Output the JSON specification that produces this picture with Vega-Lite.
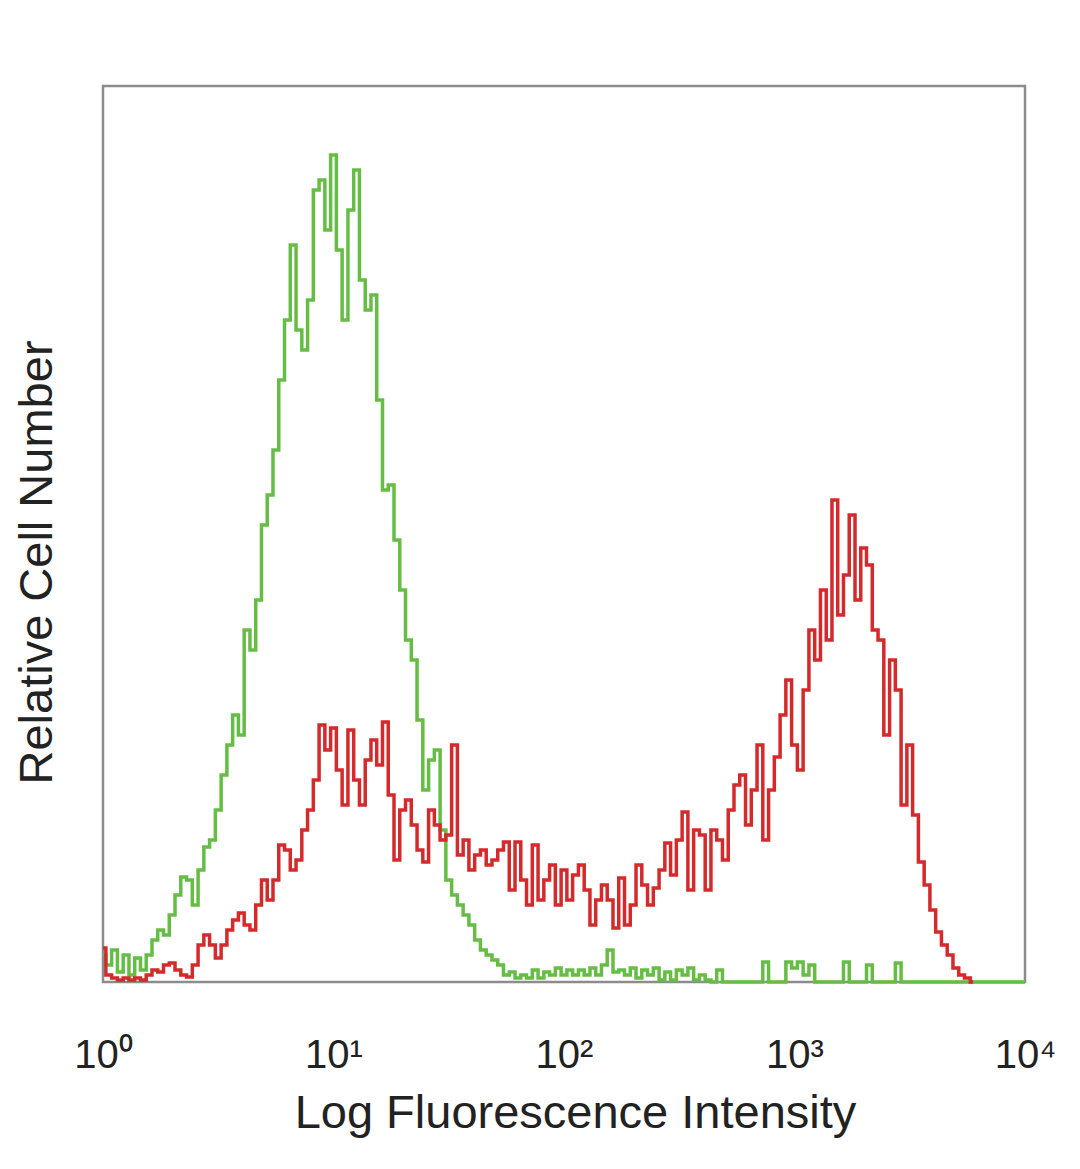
{
  "$schema": "https://vega.github.io/schema/vega-lite/v6.json",
  "width": 922,
  "height": 896,
  "autosize": "none",
  "padding": {"left": 103, "top": 86, "right": 55, "bottom": 187},
  "background": "white",
  "config": {
    "view": {"stroke": "#8c8c8c", "strokeWidth": 2.5},
    "font": "Liberation Sans"
  },
  "datasets": {
    "control": [
      {"intensity":1,"count":27},{"intensity":1.059,"count":17},{"intensity":1.122,"count":32},{"intensity":1.189,"count":10},{"intensity":1.259,"count":27},{"intensity":1.334,"count":7},{"intensity":1.413,"count":24},{"intensity":1.496,"count":12},{"intensity":1.585,"count":27},{"intensity":1.679,"count":42},
      {"intensity":1.778,"count":52},{"intensity":1.884,"count":47},{"intensity":1.995,"count":67},{"intensity":2.113,"count":87},{"intensity":2.239,"count":105},{"intensity":2.371,"count":102},{"intensity":2.512,"count":77},{"intensity":2.661,"count":112},{"intensity":2.818,"count":135},{"intensity":2.985,"count":142},
      {"intensity":3.162,"count":172},{"intensity":3.35,"count":207},{"intensity":3.548,"count":237},{"intensity":3.758,"count":267},{"intensity":3.981,"count":247},{"intensity":4.217,"count":352},{"intensity":4.467,"count":332},{"intensity":4.732,"count":382},{"intensity":5.012,"count":457},{"intensity":5.309,"count":487},
      {"intensity":5.623,"count":532},{"intensity":5.957,"count":602},{"intensity":6.31,"count":662},{"intensity":6.683,"count":737},{"intensity":7.079,"count":652},{"intensity":7.499,"count":632},{"intensity":7.943,"count":682},{"intensity":8.414,"count":792},{"intensity":8.913,"count":802},{"intensity":9.441,"count":752},
      {"intensity":10,"count":827},{"intensity":10.59,"count":732},{"intensity":11.22,"count":662},{"intensity":11.89,"count":772},{"intensity":12.59,"count":812},{"intensity":13.34,"count":702},{"intensity":14.13,"count":672},{"intensity":14.96,"count":687},{"intensity":15.85,"count":582},{"intensity":16.79,"count":492},
      {"intensity":17.78,"count":497},{"intensity":18.84,"count":442},{"intensity":19.95,"count":392},{"intensity":21.13,"count":342},{"intensity":22.39,"count":322},{"intensity":23.71,"count":262},{"intensity":25.12,"count":192},{"intensity":26.61,"count":222},{"intensity":28.18,"count":232},{"intensity":29.85,"count":152},
      {"intensity":31.62,"count":102},{"intensity":33.5,"count":87},{"intensity":35.48,"count":77},{"intensity":37.58,"count":67},{"intensity":39.81,"count":57},{"intensity":42.17,"count":42},{"intensity":44.67,"count":32},{"intensity":47.32,"count":27},{"intensity":50.12,"count":22},{"intensity":53.09,"count":17},
      {"intensity":56.23,"count":7},{"intensity":59.57,"count":10},{"intensity":63.1,"count":4},{"intensity":66.83,"count":7},{"intensity":70.79,"count":4},{"intensity":74.99,"count":12},{"intensity":79.43,"count":4},{"intensity":84.14,"count":10},{"intensity":89.13,"count":7},{"intensity":94.41,"count":14},
      {"intensity":100,"count":7},{"intensity":105.9,"count":12},{"intensity":112.2,"count":7},{"intensity":118.9,"count":12},{"intensity":125.9,"count":7},{"intensity":133.4,"count":14},{"intensity":141.3,"count":7},{"intensity":149.6,"count":17},{"intensity":158.5,"count":32},{"intensity":167.9,"count":10},
      {"intensity":177.8,"count":12},{"intensity":188.4,"count":7},{"intensity":199.5,"count":14},{"intensity":211.3,"count":4},{"intensity":223.9,"count":12},{"intensity":237.1,"count":7},{"intensity":251.2,"count":14},{"intensity":266.1,"count":2},{"intensity":281.8,"count":10},{"intensity":298.5,"count":2},
      {"intensity":316.2,"count":12},{"intensity":335,"count":7},{"intensity":354.8,"count":14},{"intensity":375.8,"count":2},{"intensity":398.1,"count":7},{"intensity":421.7,"count":2},{"intensity":446.7,"count":0},{"intensity":473.2,"count":12},{"intensity":501.2,"count":0},{"intensity":530.9,"count":0},
      {"intensity":562.3,"count":0},{"intensity":595.7,"count":0},{"intensity":631,"count":0},{"intensity":668.3,"count":0},{"intensity":707.9,"count":0},{"intensity":749.9,"count":20},{"intensity":794.3,"count":0},{"intensity":841.4,"count":0},{"intensity":891.3,"count":0},{"intensity":944.1,"count":20},
      {"intensity":1000,"count":14},{"intensity":1059,"count":20},{"intensity":1122,"count":7},{"intensity":1189,"count":17},{"intensity":1259,"count":0},{"intensity":1334,"count":0},{"intensity":1413,"count":0},{"intensity":1496,"count":0},{"intensity":1585,"count":0},{"intensity":1679,"count":20},
      {"intensity":1778,"count":0},{"intensity":1884,"count":0},{"intensity":1995,"count":0},{"intensity":2113,"count":17},{"intensity":2239,"count":0},{"intensity":2371,"count":0},{"intensity":2512,"count":0},{"intensity":2661,"count":0},{"intensity":2818,"count":19},{"intensity":2985,"count":0},
      {"intensity":3162,"count":0},{"intensity":3350,"count":0},{"intensity":3548,"count":0},{"intensity":3758,"count":0},{"intensity":3981,"count":0},{"intensity":4217,"count":0},{"intensity":4467,"count":0},{"intensity":4732,"count":0},{"intensity":5012,"count":0},{"intensity":5309,"count":0},
      {"intensity":5623,"count":0},{"intensity":5957,"count":0},{"intensity":6310,"count":0},{"intensity":6683,"count":0},{"intensity":7079,"count":0},{"intensity":7499,"count":0},{"intensity":7943,"count":0},{"intensity":8414,"count":0},{"intensity":8913,"count":0},{"intensity":9441,"count":0},
      {"intensity":10000,"count":0}
    ],
    "stained": [
      {"intensity":1,"count":34},{"intensity":1.059,"count":7},{"intensity":1.122,"count":4},{"intensity":1.189,"count":2},{"intensity":1.259,"count":4},{"intensity":1.334,"count":2},{"intensity":1.413,"count":4},{"intensity":1.496,"count":2},{"intensity":1.585,"count":7},{"intensity":1.679,"count":12},
      {"intensity":1.778,"count":10},{"intensity":1.884,"count":17},{"intensity":1.995,"count":19},{"intensity":2.113,"count":12},{"intensity":2.239,"count":7},{"intensity":2.371,"count":5},{"intensity":2.512,"count":17},{"intensity":2.661,"count":37},{"intensity":2.818,"count":47},{"intensity":2.985,"count":37},
      {"intensity":3.162,"count":24},{"intensity":3.35,"count":37},{"intensity":3.548,"count":52},{"intensity":3.758,"count":62},{"intensity":3.981,"count":69},{"intensity":4.217,"count":57},{"intensity":4.467,"count":52},{"intensity":4.732,"count":77},{"intensity":5.012,"count":102},{"intensity":5.309,"count":82},
      {"intensity":5.623,"count":102},{"intensity":5.957,"count":137},{"intensity":6.31,"count":132},{"intensity":6.683,"count":112},{"intensity":7.079,"count":122},{"intensity":7.499,"count":152},{"intensity":7.943,"count":172},{"intensity":8.414,"count":202},{"intensity":8.913,"count":257},{"intensity":9.441,"count":232},
      {"intensity":10,"count":254},{"intensity":10.59,"count":212},{"intensity":11.22,"count":177},{"intensity":11.89,"count":252},{"intensity":12.59,"count":202},{"intensity":13.34,"count":177},{"intensity":14.13,"count":222},{"intensity":14.96,"count":242},{"intensity":15.85,"count":217},{"intensity":16.79,"count":260},
      {"intensity":17.78,"count":187},{"intensity":18.84,"count":122},{"intensity":19.95,"count":172},{"intensity":21.13,"count":182},{"intensity":22.39,"count":157},{"intensity":23.71,"count":132},{"intensity":25.12,"count":120},{"intensity":26.61,"count":172},{"intensity":28.18,"count":157},{"intensity":29.85,"count":142},
      {"intensity":31.62,"count":147},{"intensity":33.5,"count":237},{"intensity":35.48,"count":127},{"intensity":37.58,"count":142},{"intensity":39.81,"count":112},{"intensity":42.17,"count":127},{"intensity":44.67,"count":132},{"intensity":47.32,"count":117},{"intensity":50.12,"count":122},{"intensity":53.09,"count":132},
      {"intensity":56.23,"count":140},{"intensity":59.57,"count":92},{"intensity":63.1,"count":140},{"intensity":66.83,"count":102},{"intensity":70.79,"count":77},{"intensity":74.99,"count":137},{"intensity":79.43,"count":82},{"intensity":84.14,"count":102},{"intensity":89.13,"count":117},{"intensity":94.41,"count":77},
      {"intensity":100,"count":112},{"intensity":105.9,"count":82},{"intensity":112.2,"count":107},{"intensity":118.9,"count":117},{"intensity":125.9,"count":92},{"intensity":133.4,"count":57},{"intensity":141.3,"count":82},{"intensity":149.6,"count":97},{"intensity":158.5,"count":82},{"intensity":167.9,"count":54},
      {"intensity":177.8,"count":104},{"intensity":188.4,"count":57},{"intensity":199.5,"count":77},{"intensity":211.3,"count":117},{"intensity":223.9,"count":97},{"intensity":237.1,"count":77},{"intensity":251.2,"count":94},{"intensity":266.1,"count":112},{"intensity":281.8,"count":139},{"intensity":298.5,"count":107},
      {"intensity":316.2,"count":142},{"intensity":335,"count":170},{"intensity":354.8,"count":92},{"intensity":375.8,"count":152},{"intensity":398.1,"count":147},{"intensity":421.7,"count":92},{"intensity":446.7,"count":152},{"intensity":473.2,"count":142},{"intensity":501.2,"count":122},{"intensity":530.9,"count":172},
      {"intensity":562.3,"count":197},{"intensity":595.7,"count":207},{"intensity":631,"count":157},{"intensity":668.3,"count":192},{"intensity":707.9,"count":237},{"intensity":749.9,"count":142},{"intensity":794.3,"count":192},{"intensity":841.4,"count":225},{"intensity":891.3,"count":267},{"intensity":944.1,"count":302},
      {"intensity":1000,"count":237},{"intensity":1059,"count":212},{"intensity":1122,"count":292},{"intensity":1189,"count":352},{"intensity":1259,"count":322},{"intensity":1334,"count":392},{"intensity":1413,"count":342},{"intensity":1496,"count":482},{"intensity":1585,"count":367},{"intensity":1679,"count":407},
      {"intensity":1778,"count":467},{"intensity":1884,"count":382},{"intensity":1995,"count":434},{"intensity":2113,"count":417},{"intensity":2239,"count":352},{"intensity":2371,"count":342},{"intensity":2512,"count":247},{"intensity":2661,"count":322},{"intensity":2818,"count":292},{"intensity":2985,"count":177},
      {"intensity":3162,"count":237},{"intensity":3350,"count":167},{"intensity":3548,"count":120},{"intensity":3758,"count":97},{"intensity":3981,"count":72},{"intensity":4217,"count":50},{"intensity":4467,"count":37},{"intensity":4732,"count":27},{"intensity":5012,"count":14},{"intensity":5309,"count":7},
      {"intensity":5623,"count":4},{"intensity":5957,"count":0}
    ]
  },
  "layer": [
    {
      "data": {"name": "control"},
      "mark": {"type": "line", "interpolate": "step", "color": "#66bd45", "strokeWidth": 3.5, "clip": false},
      "encoding": {
        "x": {
          "field": "intensity", "type": "quantitative",
          "scale": {"type": "log", "domain": [1, 10000], "nice": false},
          "axis": {
            "values": [1, 10, 100, 1000, 10000],
            "labelExpr": "datum.value == 1 ? '10⁰' : datum.value == 10 ? '10¹' : datum.value == 100 ? '10²' : datum.value == 1000 ? '10³' : '10⁴'",
            "title": "Log Fluorescence Intensity",
            "titleFont": "Liberation Sans", "titleFontSize": 47, "titleFontWeight": "normal", "titleColor": "#222222",
            "titleBaseline": "alphabetic", "titleX": 472, "titleY": 145, "titleAnchor": "middle", "titleAlign": "center",
            "labelFont": "Liberation Sans", "labelFontSize": 40, "labelColor": "#222222",
            "labelPadding": 53, "labelFlush": false, "labelOverlap": false, "labelBound": false,
            "ticks": false, "grid": false, "domain": false
          }
        },
        "y": {
          "field": "count", "type": "quantitative",
          "scale": {"domain": [0, 896], "nice": false, "zero": true},
          "axis": {
            "title": "Relative Cell Number",
            "titleFont": "Liberation Sans", "titleFontSize": 47, "titleFontWeight": "normal", "titleColor": "#222222",
            "titleAngle": -90, "titleBaseline": "alphabetic", "titleAlign": "center",
            "titleX": -52, "titleY": 476,
            "labels": false, "ticks": false, "grid": false, "domain": false
          }
        }
      }
    },
    {
      "data": {"name": "stained"},
      "mark": {"type": "line", "interpolate": "step", "color": "#d42a2c", "strokeWidth": 3.5, "clip": false},
      "encoding": {
        "x": {"field": "intensity", "type": "quantitative"},
        "y": {"field": "count", "type": "quantitative"}
      }
    }
  ]
}
